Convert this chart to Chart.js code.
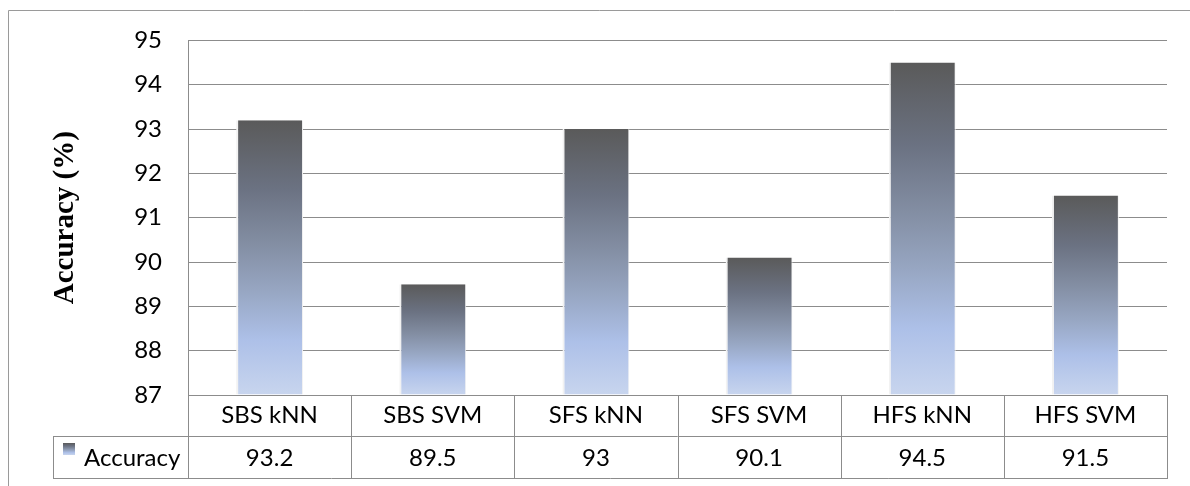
<!DOCTYPE html>
<html>
<head>
<meta charset="utf-8">
<script src="https://cdn.jsdelivr.net/npm/chart.js@4.4.1/dist/chart.umd.min.js"></script>
<style>
  html, body { margin: 0; padding: 0; background: #ffffff; }
  #wrap { width: 1190px; height: 486px; }
</style>
</head>
<body>
<div id="wrap"><canvas id="c" width="1190" height="486"></canvas></div>
<script>
// ---- data ----
const categories = ['SBS kNN', 'SBS SVM', 'SFS kNN', 'SFS SVM', 'HFS kNN', 'HFS SVM'];
const accuracy = [93.2, 89.5, 93, 90.1, 94.5, 91.5];
const seriesName = 'Accuracy';
const yMin = 87;
const yMax = 95;
const yStep = 1;
const yTitle = 'Accuracy (%)';

// ---- style ----
const LINE = '#8c8c8c';
const TEXT_FONT = 'Lato, "Open Sans", sans-serif';
const stops = [
  [0.00, '#5a5a5a'],
  [0.25, '#6b7282'],
  [0.45, '#838ea3'],
  [0.62, '#97a6c2'],
  [0.80, '#adc0e8'],
  [1.00, '#c8d5ee']
];
function makeGrad(c, y0, y1) {
  const g = c.createLinearGradient(0, y0, 0, y1);
  stops.forEach(s => g.addColorStop(s[0], s[1]));
  return g;
}

const tablePlugin = {
  id: 'dataTable',
  afterDraw(chart) {
    const c = chart.ctx;
    const ca = chart.chartArea;
    const xs = chart.scales.x;
    const n = categories.length;
    const colW = (ca.right - ca.left) / n;
    const row1Top = ca.bottom;
    const row1Bot = 436;
    const row2Bot = 478;
    const legLeft = 53;
    c.save();
    // outer frame
    c.strokeStyle = '#9a9a9a';
    c.lineWidth = 1;
    c.beginPath();
    c.moveTo(8.5, 486);
    c.lineTo(8.5, 10.5);
    c.lineTo(1190, 10.5);
    c.stroke();

    c.strokeStyle = LINE;
    c.beginPath();
    // horizontal lines
    c.moveTo(ca.left, row1Bot + 0.5); c.lineTo(ca.right, row1Bot + 0.5);
    c.moveTo(legLeft, row1Bot + 0.5); c.lineTo(ca.left, row1Bot + 0.5);
    c.moveTo(legLeft, row2Bot + 0.5); c.lineTo(ca.right + 0.5, row2Bot + 0.5);
    // legend cell left
    c.moveTo(legLeft + 0.5, row1Bot); c.lineTo(legLeft + 0.5, row2Bot + 1);
    // vertical column lines
    for (let i = 0; i <= n; i++) {
      const x = Math.round(ca.left + i * colW) + 0.5;
      c.moveTo(x, row1Top); c.lineTo(x, row2Bot + 1);
    }
    c.stroke();

    // legend square
    const sq = makeGrad(c, 443, 455);
    c.fillStyle = sq;
    c.fillRect(63, 443, 12, 12);
    // legend text
    c.fillStyle = '#000';
    c.font = '24px ' + TEXT_FONT;
    c.textBaseline = 'middle';
    c.textAlign = 'left';
    c.fillText(seriesName, 84, 458);
    // values
    c.textAlign = 'center';
    const data = chart.data.datasets[0].data;
    for (let i = 0; i < n; i++) {
      const cx = xs.getPixelForValue(i);
      c.fillText(String(data[i]), cx, 458);
    }
    c.restore();
  }
};

new Chart(document.getElementById('c'), {
  type: 'bar',
  data: {
    labels: categories,
    datasets: [{
      label: seriesName,
      data: accuracy,
      base: yMin,
      backgroundColor: (ctx) => {
        const chart = ctx.chart;
        if (!chart.chartArea || ctx.type !== 'data') return '#7f8ea6';
        const ys = chart.scales.y;
        const top = ys.getPixelForValue(ctx.raw);
        const bot = ys.getPixelForValue(yMin);
        return makeGrad(chart.ctx, top, bot);
      },
      borderColor: '#f2f2f2',
      borderWidth: { left: 2, right: 1, top: 0, bottom: 0 },
      borderSkipped: false,
      barPercentage: 0.41,
      categoryPercentage: 1.0
    }]
  },
  options: {
    responsive: false,
    animation: false,
    events: [],
    layout: { padding: { left: 0, top: 40, right: 23, bottom: 0 } },
    plugins: {
      legend: { display: false },
      tooltip: { enabled: false },
      title: { display: false }
    },
    scales: {
      x: {
        grid: { display: false, drawTicks: false },
        border: { display: true, color: LINE, width: 1 },
        ticks: {
          color: '#000',
          font: { family: TEXT_FONT, size: 24, lineHeight: 1.2 },
          padding: 6,
          maxRotation: 0,
          autoSkip: false
        },
        afterFit(scale) { scale.height = 91; }
      },
      y: {
        min: yMin,
        max: yMax,
        grid: { color: LINE, lineWidth: 1, drawTicks: false },
        border: { display: true, color: LINE, width: 1 },
        ticks: {
          stepSize: yStep,
          color: '#000',
          font: { family: TEXT_FONT, size: 24 },
          padding: 26
        },
        title: {
          display: true,
          text: yTitle,
          color: '#000',
          font: { family: '"Liberation Serif", "Times New Roman", serif', size: 29, weight: 'bold', lineHeight: 1.2 },
          padding: { top: 48, bottom: 0 }
        },
        afterFit(scale) { scale.width = 188; }
      }
    }
  },
  plugins: [tablePlugin]
});
</script>
</body>
</html>
